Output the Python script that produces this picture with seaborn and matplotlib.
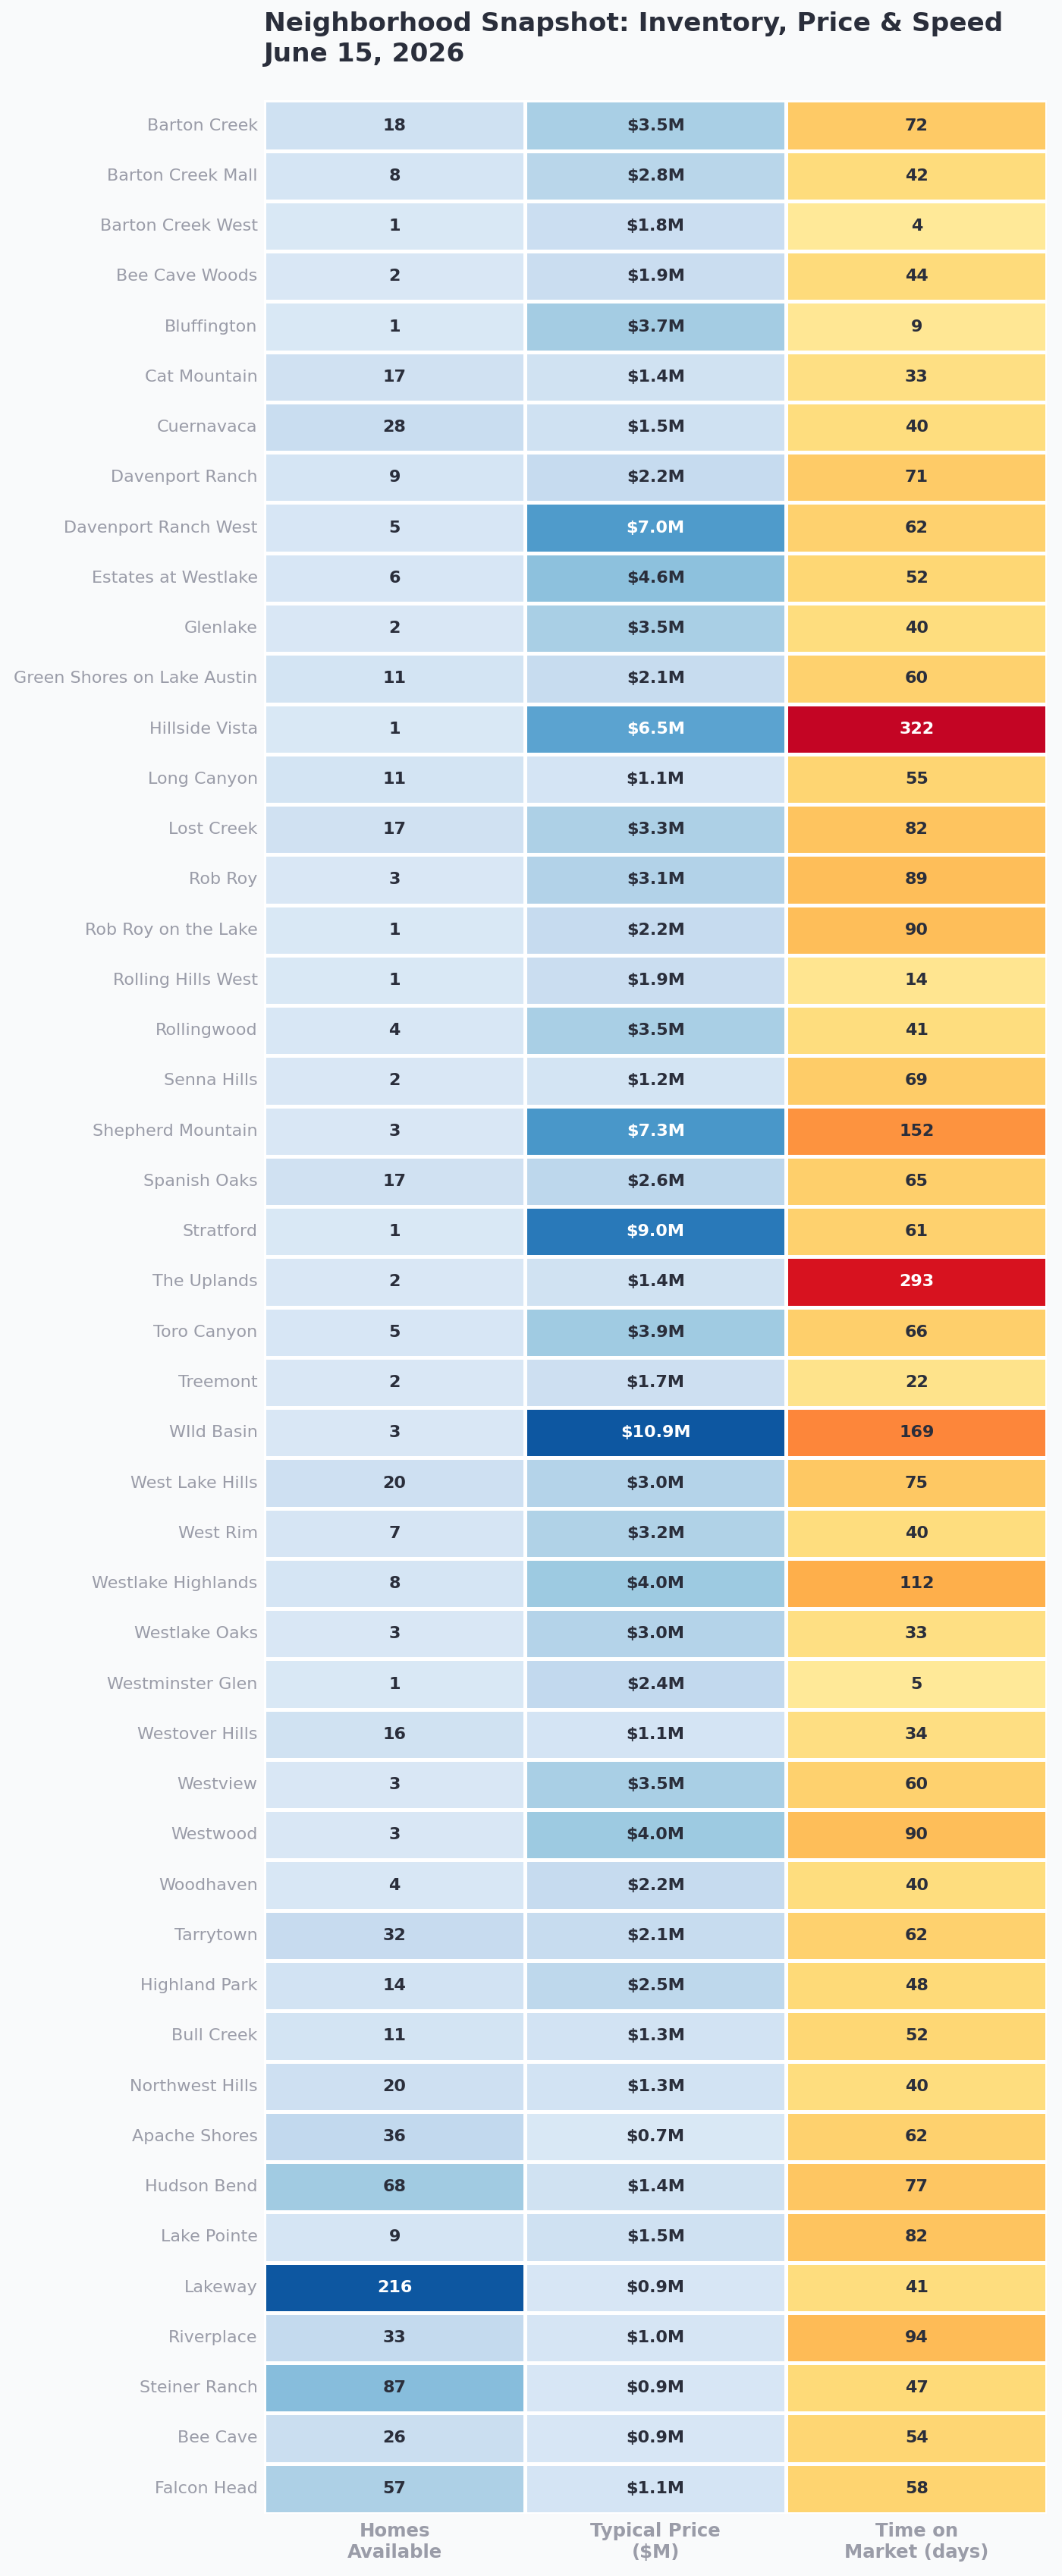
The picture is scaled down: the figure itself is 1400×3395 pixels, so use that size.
import numpy as np
import pandas as pd
import matplotlib
matplotlib.use("Agg")
import matplotlib.pyplot as plt
from matplotlib.colors import ListedColormap
import seaborn as sns

neighborhoods = [
    "Barton Creek", "Barton Creek Mall", "Barton Creek West", "Bee Cave Woods", "Bluffington",
    "Cat Mountain", "Cuernavaca", "Davenport Ranch", "Davenport Ranch West", "Estates at Westlake",
    "Glenlake", "Green Shores on Lake Austin", "Hillside Vista", "Long Canyon", "Lost Creek",
    "Rob Roy", "Rob Roy on the Lake", "Rolling Hills West", "Rollingwood", "Senna Hills",
    "Shepherd Mountain", "Spanish Oaks", "Stratford", "The Uplands", "Toro Canyon",
    "Treemont", "WIld Basin", "West Lake Hills", "West Rim", "Westlake Highlands",
    "Westlake Oaks", "Westminster Glen", "Westover Hills", "Westview", "Westwood",
    "Woodhaven", "Tarrytown", "Highland Park", "Bull Creek", "Northwest Hills",
    "Apache Shores", "Hudson Bend", "Lake Pointe", "Lakeway", "Riverplace",
    "Steiner Ranch", "Bee Cave", "Falcon Head",
]
homes = [18, 8, 1, 2, 1, 17, 28, 9, 5, 6, 2, 11, 1, 11, 17, 3, 1, 1, 4, 2,
         3, 17, 1, 2, 5, 2, 3, 20, 7, 8, 3, 1, 16, 3, 3, 4, 32, 14, 11, 20,
         36, 68, 9, 216, 33, 87, 26, 57]
price_m = [3.5, 2.8, 1.8, 1.9, 3.7, 1.4, 1.5, 2.2, 7.0, 4.6, 3.5, 2.1, 6.5, 1.1, 3.3,
           3.1, 2.2, 1.9, 3.5, 1.2, 7.3, 2.6, 9.0, 1.4, 3.9, 1.7, 10.9, 3.0, 3.2, 4.0,
           3.0, 2.4, 1.1, 3.5, 4.0, 2.2, 2.1, 2.5, 1.3, 1.3, 0.7, 1.4, 1.5, 0.9, 1.0,
           0.9, 0.9, 1.1]
days = [72, 42, 4, 44, 9, 33, 40, 71, 62, 52, 40, 60, 322, 55, 82, 89, 90, 14, 41, 69,
        152, 65, 61, 293, 66, 22, 169, 75, 40, 112, 33, 5, 34, 60, 90, 40, 62, 48, 52, 40,
        62, 77, 82, 41, 94, 47, 54, 58]
col_labels = ["Homes\nAvailable", "Typical Price\n($M)", "Time on\nMarket (days)"]
title = "Neighborhood Snapshot: Inventory, Price & Speed\nJune 15, 2026"

BG = "#f9fafb"
TITLE_C = "#2a2e3b"
LABEL_C = "#9a9ca8"
TEXT_DARK = "#2a2e3b"

def trunc(name, lo=0.15, hi=0.85):
    base = plt.get_cmap(name)
    return ListedColormap(base(np.linspace(lo, hi, 256)))

cmaps = [trunc("Blues"), trunc("Blues"), trunc("YlOrRd")]

df = pd.DataFrame({col_labels[0]: homes, col_labels[1]: price_m, col_labels[2]: days},
                  index=neighborhoods)

sns.set_theme(style="white")
plt.rcParams["font.family"] = ["DejaVu Sans"]

fig = plt.figure(figsize=(7, 16.975), dpi=200, facecolor=BG)
ax = fig.add_axes([0.2486, 0.0242, 0.986 - 0.2486, 0.961 - 0.0242])
ax.set_facecolor(BG)

nrows, ncols = df.shape
for j in range(ncols):
    mask = np.ones(df.shape, dtype=bool)
    mask[:, j] = False
    col = df.iloc[:, j]
    sns.heatmap(df, mask=mask, cmap=cmaps[j], vmin=col.min(), vmax=col.max(),
                cbar=False, linewidths=1.8, linecolor="white", ax=ax,
                xticklabels=col_labels, yticklabels=neighborhoods)

# annotations
for j in range(ncols):
    col = df.iloc[:, j]
    norm = (col - col.min()) / (col.max() - col.min())
    for i in range(nrows):
        v = col.iloc[i]
        if j == 1:
            s = f"${v:.1f}M"
        else:
            s = f"{int(v)}"
        c = "white" if norm.iloc[i] > 0.55 else TEXT_DARK
        ax.text(j + 0.5, i + 0.5, s, ha="center", va="center",
                fontsize=8, fontweight="bold", color=c)

ax.tick_params(axis="both", length=0)
ax.set_yticklabels(neighborhoods, rotation=0, fontsize=8, color=LABEL_C)
ax.set_xticklabels(col_labels, rotation=0, fontsize=8.8, color=LABEL_C, fontweight="bold")
ax.tick_params(axis="x", pad=4)
ax.tick_params(axis="y", pad=3)
ax.set_xlabel("")
ax.set_ylabel("")

fig.text(0.2486, 0.9955, title, ha="left", va="top", fontsize=12.4,
         fontweight="bold", color=TITLE_C, linespacing=1.25)

fig.savefig("out.png", dpi=200, facecolor=BG)
